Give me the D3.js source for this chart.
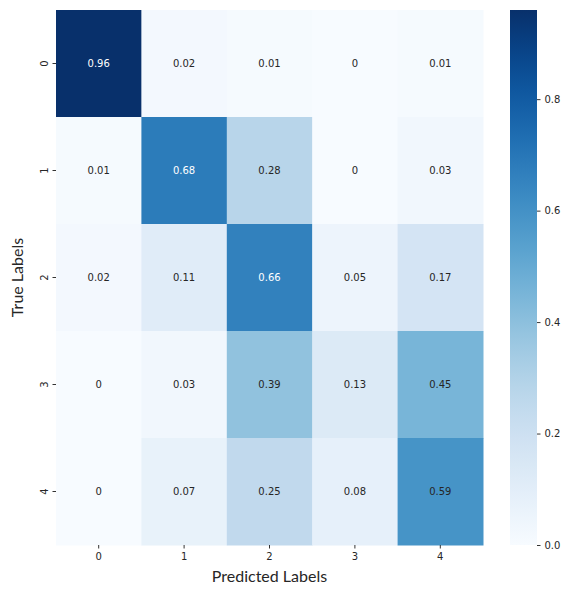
<!DOCTYPE html>
<html><head><meta charset="utf-8">
<script src="https://cdn.jsdelivr.net/npm/d3@7"></script>
<style>body{margin:0;background:#fff}</style>
</head><body>
<div id="chart"></div>
<script>
// Confusion matrix data
var labels = ["0", "1", "2", "3", "4"];
var matrix = [
  [0.96, 0.02, 0.01, 0, 0.01],
  [0.01, 0.68, 0.28, 0, 0.03],
  [0.02, 0.11, 0.66, 0.05, 0.17],
  [0, 0.03, 0.39, 0.13, 0.45],
  [0, 0.07, 0.25, 0.08, 0.59]
];
var cbarTicks = [0, 0.2, 0.4, 0.6, 0.8];

var svgWidth = 567, svgHeight = 589;
var margin = {top: 10, left: 56};
var hmWidth = 427, hmHeight = 535;
var vmax = 0.96;

var svg = d3.select("#chart").append("svg")
  .attr("width", svgWidth).attr("height", svgHeight);

var x = d3.scaleBand().domain(labels).range([margin.left, margin.left + hmWidth]);
var y = d3.scaleBand().domain(labels).range([margin.top, margin.top + hmHeight]);
var color = d3.scaleSequential(d3.interpolateBlues).domain([0, vmax]);

// dark text on light cells
function luminance(c) {
  var rgb = d3.rgb(c);
  var f = v => { v /= 255; return v <= 0.03928 ? v / 12.92 : Math.pow((v + 0.055) / 1.055, 2.4); };
  return 0.2126 * f(rgb.r) + 0.7152 * f(rgb.g) + 0.0722 * f(rgb.b);
}

var cells = [];
matrix.forEach((row, i) => row.forEach((v, j) => cells.push({r: labels[i], c: labels[j], v: v})));

svg.selectAll(".cell").data(cells).enter().append("rect")
  .attr("x", d => x(d.c)).attr("y", d => y(d.r))
  .attr("width", x.bandwidth() + 0.5).attr("height", y.bandwidth() + 0.5)
  .attr("fill", d => color(d.v));

svg.selectAll(".val").data(cells).enter().append("text")
  .attr("x", d => x(d.c) + x.bandwidth() / 2)
  .attr("y", d => y(d.r) + y.bandwidth() / 2)
  .attr("text-anchor", "middle").attr("dominant-baseline", "central")
  .style("font-family", "DejaVu Sans").style("font-size", "10px")
  .attr("fill", d => luminance(color(d.v)) > 0.235 ? "#262626" : "#ffffff")
  .text(d => d.v);

// axes
var xAxis = svg.append("g").attr("transform", `translate(0,${margin.top + hmHeight})`)
  .call(d3.axisBottom(x).tickSize(3.5).tickPadding(4));
var yAxis = svg.append("g").attr("transform", `translate(${margin.left},0)`)
  .call(d3.axisLeft(y).tickSize(3.5).tickPadding(4));
[xAxis, yAxis].forEach(a => {
  a.select(".domain").remove();
  a.selectAll("line").attr("stroke", "#333");
  a.selectAll("text").style("font-family", "DejaVu Sans").style("font-size", "10px").attr("fill", "#262626");
});
yAxis.selectAll(".tick text").attr("x", null).attr("dy", "0.35em")
  .attr("transform", "translate(-12,0) rotate(-90)").attr("text-anchor", "middle");

svg.append("text").attr("x", margin.left + hmWidth / 2).attr("y", 582)
  .attr("text-anchor", "middle").style("font-family", "Lato").style("font-size", "16px")
  .attr("fill", "#262626").text("Predicted Labels");
svg.append("text").attr("transform", `translate(23,${margin.top + hmHeight / 2}) rotate(-90)`)
  .attr("text-anchor", "middle").style("font-family", "Lato").style("font-size", "16px")
  .attr("fill", "#262626").text("True Labels");

// colorbar
var cbX = 510, cbW = 27;
var cbScale = d3.scaleLinear().domain([0, vmax]).range([margin.top + hmHeight, margin.top]);
var grad = svg.append("defs").append("linearGradient").attr("id", "cb")
  .attr("x1", 0).attr("y1", 1).attr("x2", 0).attr("y2", 0);
d3.range(0, 1.0001, 0.05).forEach(t => grad.append("stop")
  .attr("offset", t).attr("stop-color", color(t * vmax)));
svg.append("rect").attr("x", cbX).attr("y", margin.top).attr("width", cbW).attr("height", hmHeight)
  .attr("fill", "url(#cb)");
var cAxis = svg.append("g").attr("transform", `translate(${cbX + cbW},0)`)
  .call(d3.axisRight(cbScale).tickValues(cbarTicks).tickFormat(d3.format(".1f")).tickSize(3.5).tickPadding(4));
cAxis.select(".domain").remove();
cAxis.selectAll("line").attr("stroke", "#333");
cAxis.selectAll("text").style("font-family", "DejaVu Sans").style("font-size", "10px").attr("fill", "#262626");
</script>
</body></html>
